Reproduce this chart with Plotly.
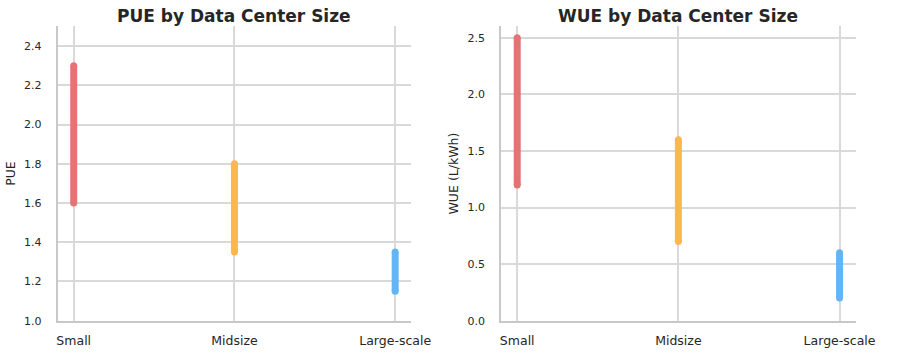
import plotly.graph_objects as go

categories = ["Small", "Midsize", "Large-scale"]
pue_low = [1.6, 1.35, 1.15]
pue_high = [2.3, 1.8, 1.35]
wue_low = [1.2, 0.7, 0.2]
wue_high = [2.5, 1.6, 0.6]
colors = ["#e57373", "#ffb74d", "#64b5f6"]

W, H = 904, 362
fig = go.Figure()

for i, cat in enumerate(categories):
    fig.add_trace(go.Scatter(
        x=[cat, cat], y=[pue_low[i], pue_high[i]], mode="lines+markers",
        line=dict(color=colors[i], width=7), marker=dict(color=colors[i], size=7),
        showlegend=False, hoverinfo="skip", xaxis="x", yaxis="y"))
    fig.add_trace(go.Scatter(
        x=[cat, cat], y=[wue_low[i], wue_high[i]], mode="lines+markers",
        line=dict(color=colors[i], width=7), marker=dict(color=colors[i], size=7),
        showlegend=False, hoverinfo="skip", xaxis="x2", yaxis="y2"))

ydom = [35 / H, 1 - 27 / H]
xtickfont = dict(family="DejaVu Sans", size=12.5, color="#262626")
ytickfont = dict(family="DejaVu Sans", size=11, color="#262626")
common_x = dict(type="category", categoryorder="array", categoryarray=categories,
                range=[-0.1, 2.1], showgrid=True, gridcolor="#d9d9d9", gridwidth=1.6,
                showline=True, linecolor="#c8c8c8", linewidth=2, ticks="",
                ticklabelstandoff=7, tickfont=xtickfont, zeroline=False, fixedrange=True)
common_y = dict(showgrid=True, gridcolor="#d9d9d9", gridwidth=1.6,
                showline=True, linecolor="#c8c8c8", linewidth=2, ticks="",
                ticklabelstandoff=12, tickfont=ytickfont, zeroline=False,
                tickformat=".1f")

fig.update_layout(
    width=W, height=H,
    margin=dict(l=0, r=0, t=0, b=0),
    paper_bgcolor="white", plot_bgcolor="white",
    font=dict(family="DejaVu Sans", color="#262626"),
    xaxis=dict(domain=[58 / W, 420 / W], anchor="y", **common_x),
    xaxis2=dict(domain=[512 / W, 875 / W], anchor="y2", **common_x),
    yaxis=dict(domain=ydom, anchor="x", range=[1.0, 2.5], tickvals=[1.0, 1.2, 1.4, 1.6, 1.8, 2.0, 2.2, 2.4],
               title=dict(text="PUE", font=dict(size=12.5, family="DejaVu Sans"), standoff=6), **common_y),
    yaxis2=dict(domain=ydom, anchor="x2", range=[0, 2.6], tickvals=[0, 0.5, 1.0, 1.5, 2.0, 2.5],
                title=dict(text="WUE (L/kWh)", font=dict(size=12.5, family="DejaVu Sans"), standoff=6), **common_y),
    annotations=[
        dict(text="<b>PUE by Data Center Size</b>", x=239 / W, y=1 - 16 / H, xref="paper", yref="paper",
             showarrow=False, font=dict(size=17, family="DejaVu Sans", color="#262626"),
             xanchor="center", yanchor="middle"),
        dict(text="<b>WUE by Data Center Size</b>", x=693 / W, y=1 - 16 / H, xref="paper", yref="paper",
             showarrow=False, font=dict(size=17, family="DejaVu Sans", color="#262626"),
             xanchor="center", yanchor="middle"),
    ],
)

fig.write_html("out.html")
